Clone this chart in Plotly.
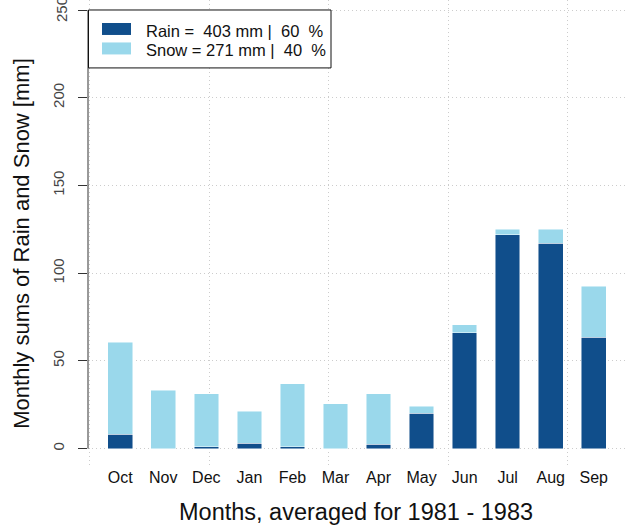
import plotly.graph_objects as go

months = ["Oct", "Nov", "Dec", "Jan", "Feb", "Mar", "Apr", "May", "Jun", "Jul", "Aug", "Sep"]
rain = [8.0, 0.0, 1.0, 3.0, 1.0, 0.0, 2.5, 20.0, 66.0, 122.0, 117.0, 63.5]
snow = [52.5, 33.3, 30.2, 18.3, 36.0, 25.5, 28.8, 4.0, 4.5, 3.0, 8.0, 29.0]
legend_labels = ["Rain =  403 mm |  60  %", "Snow = 271 mm |  40  %"]
y_ticks = [0, 50, 100, 150, 200, 250]
x_grid = [0, 4.86, 9.72, 14.58, 19.44]

RAIN_C = "#104E8B"
SNOW_C = "#9AD8EB"
FONT = "Liberation Sans, Arial, sans-serif"

W, H = 635, 527
ML, MR, MT, MB = 88, 9, 0, 60.5
PW, PH = W - ML - MR, H - MT - MB

# bar positions as in an R barplot (width 1, space 0.75)
xpos = [1.25 + 1.75 * i for i in range(len(months))]

fig = go.Figure()
line = dict(color="rgba(255,255,255,0.6)", width=0.8)
fig.add_trace(go.Bar(x=xpos, y=rain, width=1, marker=dict(color=RAIN_C, line=line), name=legend_labels[0]))
fig.add_trace(go.Bar(x=xpos, y=snow, width=1, marker=dict(color=SNOW_C, line=line), name=legend_labels[1]))

def px2paper_x(px):
    return (px - ML) / PW

def px2paper_y(py):
    return (H - MB - py) / PH

shapes = []
# y axis line from 0 to 250
shapes.append(dict(type="line", xref="paper", yref="y", x0=0, x1=0, y0=y_ticks[0], y1=y_ticks[-1],
                   line=dict(color="#333", width=1)))
# legend box
lx0, lx1, ly0, ly1 = 88.5, 331, 10, 68
shapes.append(dict(type="rect", xref="paper", yref="paper", x0=px2paper_x(lx0), x1=px2paper_x(lx1),
                   y0=px2paper_y(ly1), y1=px2paper_y(ly0), line=dict(color="#111", width=1),
                   fillcolor="white", layer="above"))
annotations = []
for k, (lab, col) in enumerate(zip(legend_labels, [RAIN_C, SNOW_C])):
    cy = 29 + k * 19.5
    shapes.append(dict(type="rect", xref="paper", yref="paper", x0=px2paper_x(102), x1=px2paper_x(131),
                       y0=px2paper_y(cy + 6), y1=px2paper_y(cy - 6), line=dict(width=0),
                       fillcolor=col, layer="above"))
    annotations.append(dict(xref="paper", yref="paper", x=px2paper_x(144), y=px2paper_y(cy + 2),
                            text=lab.replace(" ", "\u00a0"), showarrow=False, xanchor="left",
                            yanchor="middle", font=dict(family=FONT, size=16.5, color="#111")))

# top tick label (partly outside the figure, as in the reference)
annotations.append(dict(xref="paper", yref="y", x=px2paper_x(61), y=y_ticks[-1],
                        text=str(y_ticks[-1]), textangle=-90, showarrow=False,
                        xanchor="center", yanchor="middle", font=dict(family=FONT, size=15, color="#444")))

annotations.append(dict(xref="paper", yref="paper", x=px2paper_x(22), y=px2paper_y(244),
                        text="Monthly sums of Rain and Snow [mm]", textangle=-90, showarrow=False,
                        xanchor="center", yanchor="middle", font=dict(family=FONT, size=22, color="#111")))
annotations.append(dict(xref="paper", yref="paper", x=px2paper_x(356), y=px2paper_y(513),
                        text="Months, averaged for 1981 - 1983", showarrow=False,
                        xanchor="center", yanchor="middle", font=dict(family=FONT, size=23.5, color="#111")))

fig.update_layout(
    width=W, height=H, barmode="stack", showlegend=False,
    margin=dict(l=ML, r=MR, t=MT, b=MB, pad=0),
    plot_bgcolor="white", paper_bgcolor="white",
    font=dict(family=FONT, color="#222"),
    shapes=shapes, annotations=annotations,
)
fig.update_xaxes(range=[-0.06, 21.81], tickvals=xpos, ticktext=months, showgrid=False,
                 showline=False, zeroline=False, ticks="", tickfont=dict(size=16, color="#111"),
                 minor=dict(tickvals=x_grid, showgrid=True, gridcolor="#cccccc",
                            griddash="1px,3px", gridwidth=1, ticks=""))
fig.update_yaxes(range=[-9.97, 255.7], tickvals=y_ticks, ticktext=[str(v) for v in y_ticks[:-1]] + [""],
                 showgrid=True, gridcolor="#cccccc",
                 griddash="1px,3px", gridwidth=1, zeroline=False, showline=False, ticks="outside",
                 ticklen=9, tickcolor="#333", tickangle=-90, tickfont=dict(size=15, color="#444"),
                 ticklabelstandoff=8)

fig.write_html("out.html", config={"displayModeBar": False},
               post_script="document.body.style.margin='0px';document.body.style.overflow='hidden';")
